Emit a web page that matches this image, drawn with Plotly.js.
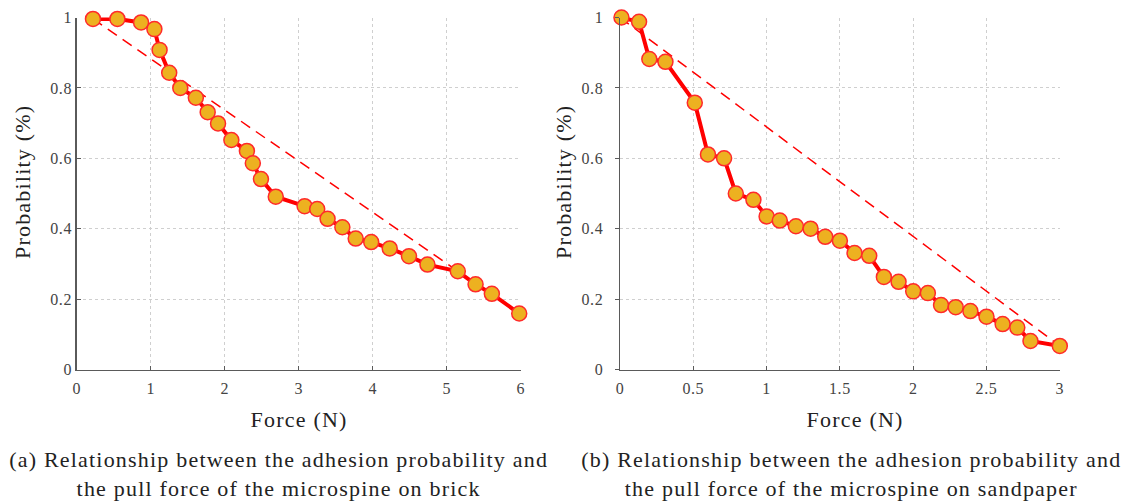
<!DOCTYPE html>
<html>
<head>
<meta charset="utf-8">
<script src="https://cdn.plot.ly/plotly-3.0.1.min.js"></script>
<style>
html,body{margin:0;padding:0;background:#fff}
#chart{width:1127px;height:502px}
#chart .annotation-text{letter-spacing:1.2px}
#chart .xtick text,#chart .ytick text,#chart .x2tick text,#chart .y2tick text{letter-spacing:0.6px}
</style>
</head>
<body>
<div id="chart"></div>
<script>
// (a) brick
const forceBrick = [0.22,0.55,0.87,1.05,1.12,1.25,1.40,1.61,1.77,1.91,2.09,2.30,2.38,2.49,2.69,3.08,3.25,3.39,3.59,3.77,3.98,4.23,4.49,4.74,5.15,5.39,5.61,5.98];
const probBrick  = [0.996,0.996,0.986,0.967,0.908,0.843,0.800,0.772,0.731,0.699,0.652,0.621,0.586,0.541,0.491,0.464,0.456,0.428,0.404,0.372,0.362,0.344,0.322,0.298,0.279,0.242,0.215,0.159];
const refBrickX = [0.22,5.98];
const refBrickY = [0.996,0.159];
// (b) sandpaper
const forceSand = [0.01,0.13,0.20,0.31,0.51,0.60,0.71,0.79,0.91,1.00,1.09,1.20,1.30,1.40,1.50,1.60,1.70,1.80,1.90,2.00,2.10,2.19,2.29,2.39,2.50,2.61,2.71,2.80,3.00];
const probSand  = [1.0,0.988,0.882,0.874,0.758,0.611,0.600,0.500,0.482,0.435,0.423,0.407,0.400,0.377,0.366,0.331,0.323,0.263,0.249,0.222,0.217,0.183,0.177,0.166,0.150,0.129,0.119,0.081,0.067];
const refSandX = [0.0,3.0];
const refSandY = [1.0,0.067];

const xTicksA = [0,1,2,3,4,5,6];
const xTickTextA = ['0','1','2','3','4','5','6'];
const xTicksB = [0,0.5,1,1.5,2,2.5,3];
const xTickTextB = ['0','0.5','1','1.5','2','2.5','3'];
const yTicks = [0,0.2,0.4,0.6,0.8,1];
const yTickText = ['0','0.2','0.4','0.6','0.8','1'];

const xTitle = 'Force (N)';
const yTitle = 'Probability (%)';
const captionA = '(a) Relationship between the adhesion probability and<br>the pull force of the microspine on brick';
const captionB = '(b) Relationship between the adhesion probability and<br>the pull force of the microspine on sandpaper';

const FONT = '"Liberation Serif", "Times New Roman", serif';
const dataLine = {color:'#ff0000', width:4};
const mk = {size:15, color:'#EDB120', line:{color:'#ff2a2a', width:1.5}};
const dashLine = {color:'#ff0000', width:1.5, dash:'11px,7px'};

const traces = [
  {x:refBrickX, y:refBrickY, xaxis:'x', yaxis:'y', mode:'lines', line:dashLine, hoverinfo:'skip', cliponaxis:false},
  {x:forceBrick, y:probBrick, xaxis:'x', yaxis:'y', mode:'lines+markers', line:dataLine, marker:mk, cliponaxis:false},
  {x:refSandX, y:refSandY, xaxis:'x2', yaxis:'y2', mode:'lines', line:dashLine, hoverinfo:'skip', cliponaxis:false},
  {x:forceSand, y:probSand, xaxis:'x2', yaxis:'y2', mode:'lines+markers', line:dataLine, marker:mk, cliponaxis:false}
];

const W = 1127, H = 502;
const axBase = {
  showline:true, linecolor:'#5a5a5a', linewidth:1.5, mirror:false,
  showgrid:true, gridcolor:'#cfcfcf', griddash:'dot', gridwidth:1,
  zeroline:false, tickfont:{family:FONT, size:16, color:'#444'},
  tickcolor:'#5a5a5a', ticklen:4, tickwidth:1, fixedrange:true
};
const yDom = [(H-369.5)/H, (H-17.5)/H];
const tf = {family:FONT,size:22,color:'#222'};
const layout = {
  width:W, height:H, margin:{l:0,r:0,t:0,b:0}, showlegend:false,
  paper_bgcolor:'#fff', plot_bgcolor:'#fff',
  font:{family:FONT, color:'#222'},
  xaxis: Object.assign({}, axBase, {domain:[76.7/W, 520.7/W], range:[0,6], tickvals:xTicksA, ticktext:xTickTextA, ticks:'inside', anchor:'y', ticklabelstandoff:4}),
  yaxis: Object.assign({}, axBase, {domain:yDom, range:[0,1], tickvals:yTicks, ticktext:yTickText, ticks:'inside', anchor:'x'}),
  xaxis2: Object.assign({}, axBase, {domain:[620/W, 1059.8/W], range:[0,3], tickvals:xTicksB, ticktext:xTickTextB, ticks:'inside', anchor:'y2', ticklabelstandoff:4}),
  yaxis2: Object.assign({}, axBase, {domain:yDom, range:[0,1], tickvals:yTicks, ticktext:yTickText, ticks:'outside', anchor:'x2', ticklabelstandoff:8}),
  annotations:[
    {text:xTitle, xref:'paper', yref:'paper', x:299/W, y:1-419/H, showarrow:false, xanchor:'center', yanchor:'middle', font:tf},
    {text:xTitle, xref:'paper', yref:'paper', x:855/W, y:1-419/H, showarrow:false, xanchor:'center', yanchor:'middle', font:tf},
    {text:yTitle, xref:'paper', yref:'paper', x:22/W, y:1-182/H, showarrow:false, textangle:-90, xanchor:'center', yanchor:'middle', font:tf},
    {text:yTitle, xref:'paper', yref:'paper', x:563/W, y:1-182/H, showarrow:false, textangle:-90, xanchor:'center', yanchor:'middle', font:tf},
    {text:captionA, xref:'paper', yref:'paper', x:278/W, y:1-474/H, showarrow:false, xanchor:'center', yanchor:'middle', align:'center', font:tf},
    {text:captionB, xref:'paper', yref:'paper', x:851/W, y:1-474/H, showarrow:false, xanchor:'center', yanchor:'middle', align:'center', font:tf}
  ]
};
Plotly.newPlot('chart', traces, layout, {displayModeBar:false, staticPlot:true});
</script>
</body>
</html>
